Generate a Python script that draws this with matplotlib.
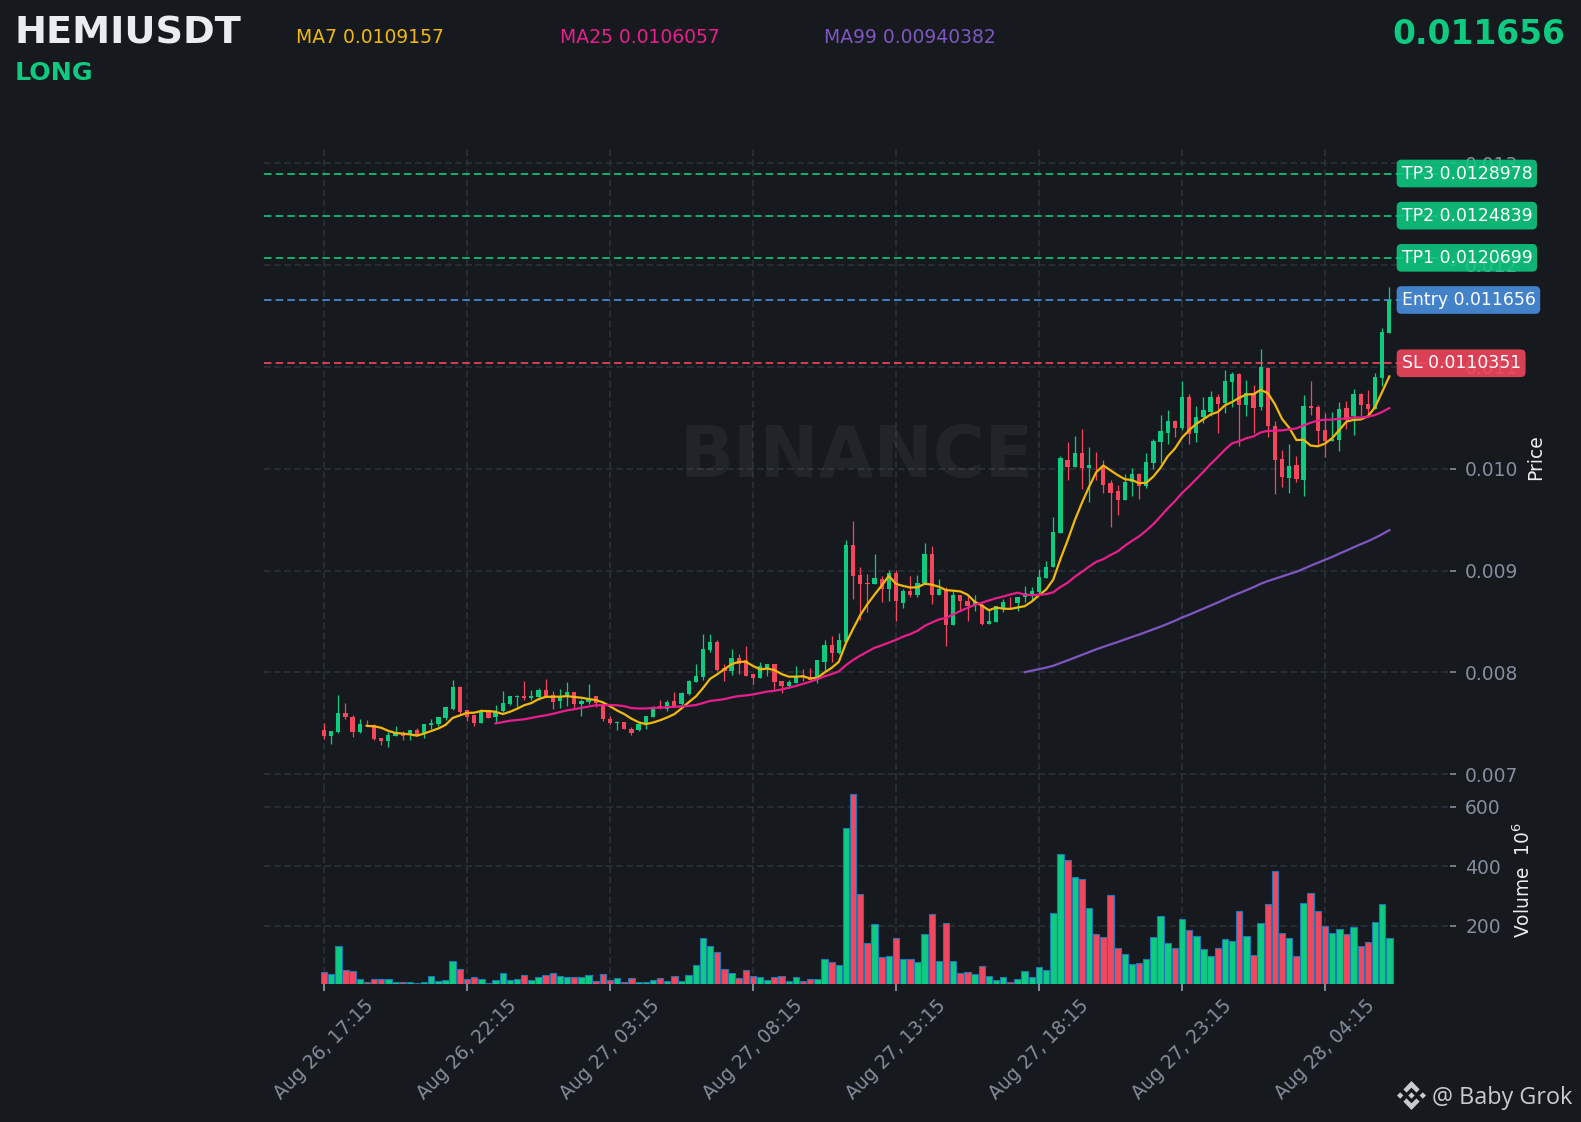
import numpy as np
import pandas as pd
import matplotlib
matplotlib.use("Agg")
import matplotlib.pyplot as plt
from matplotlib.patches import Polygon
from matplotlib.ticker import FormatStrFormatter

# prices below are in millionths of USDT, volumes in millions
opens = [7431,7372,7414,7597,7558,7411,7483,7483,7352,7326,7372,7404,7381,7431,7404,7480,7489,7548,7637,7853,
         7627,7578,7499,7627,7558,7617,7686,7755,7764,7745,7755,7823,7774,7715,7755,7804,7686,7705,7764,7686,
         7545,7503,7509,7447,7431,7480,7558,7666,7637,7715,7686,7784,7902,7951,8216,8295,8039,8010,8137,8118,
         7980,7941,8039,8079,7912,7863,7892,7971,7941,7921,8098,8265,8187,8298,9247,8952,8874,8864,8913,8815,
         8972,8686,8804,8755,8882,9167,8764,8813,8470,8755,8705,8666,8666,8480,8499,8637,8696,8686,8745,8764,
         8794,8931,9039,9373,10090,10021,10158,10011,10050,10031,9864,9776,9697,9867,9952,9834,10060,10266,10354,10472,
         10403,10708,10354,10511,10560,10708,10649,10855,10934,10629,10747,10610,10992,10423,10099,9912,10040,9893,10619,10610,
         10384,10276,10286,10600,10521,10737,10639,10590,10894,11336]
highs = [7503,7421,7774,7702,7581,7539,7529,7496,7359,7411,7476,7421,7437,7457,7489,7545,7558,7663,7921,7869,
         7627,7578,7643,7633,7676,7813,7764,7774,7912,7823,7849,7931,7813,7840,7902,7804,7741,7889,7771,7699,
         7568,7522,7509,7460,7509,7568,7673,7725,7725,7804,7804,7921,8079,8373,8373,8321,8079,8226,8177,8255,
         7987,8098,8079,8085,7918,7921,8059,8029,8039,8124,8314,8353,8383,9296,9482,9031,8969,9158,8942,9008,
         9001,8820,8951,8961,9275,9242,8921,8843,8804,8764,8771,8755,8679,8614,8647,8722,8745,8745,8853,8836,
         9016,9098,9524,10129,10266,10325,10391,10211,10168,10086,9884,9844,9949,10007,9962,10155,10295,10528,10577,10480,
         10865,10734,10616,10708,10767,10734,10973,10950,10940,10875,10822,11176,11002,10472,10184,10243,10122,10724,10865,10629,
         10547,10560,10659,10669,10783,10740,10776,10940,11379,11788]
lows = [7345,7293,7404,7542,7365,7404,7473,7339,7287,7267,7372,7339,7332,7381,7355,7447,7470,7529,7627,7594,
        7522,7473,7499,7548,7512,7611,7676,7660,7725,7725,7725,7758,7640,7647,7666,7653,7571,7692,7660,7522,
        7496,7431,7440,7385,7420,7444,7558,7640,7624,7656,7679,7777,7902,7921,8196,8013,7912,7971,7980,7961,
        7882,7941,7961,7840,7797,7849,7892,7912,7921,7895,8000,8098,8177,8298,8717,8510,8592,8864,8687,8700,
        8501,8633,8738,8738,8869,8673,8755,8257,8470,8607,8509,8607,8467,8480,8493,8591,8633,8607,8689,8705,
        8774,8931,9033,9367,9887,10014,9802,9677,9890,9759,9425,9550,9697,9736,9703,9811,9998,10060,10246,10315,
        10380,10240,10260,10446,10520,10348,10544,10602,10220,10520,10354,10577,10309,9752,9824,9759,9873,9736,10528,10222,
        10119,10276,10178,10387,10331,10521,10505,10585,10816,11336]
closes = [7372,7421,7597,7558,7414,7489,7473,7342,7323,7381,7414,7372,7437,7381,7489,7499,7558,7656,7853,7607,
          7558,7499,7617,7552,7607,7696,7764,7764,7745,7764,7823,7764,7705,7764,7804,7686,7715,7735,7696,7539,
          7499,7509,7440,7401,7489,7568,7647,7656,7705,7666,7794,7912,7961,8226,8295,8020,8010,8137,8079,7961,
          7941,8059,8079,7902,7863,7902,7961,7961,7921,8118,8265,8187,8314,9247,8942,8864,8867,8923,8815,8972,
          8697,8804,8755,8882,9167,8755,8823,8470,8764,8705,8656,8689,8480,8509,8647,8696,8689,8745,8784,8804,
          8941,9039,9383,10100,10021,10158,10011,10041,10044,9844,9766,9697,9874,9952,9827,10070,10276,10374,10472,10403,
          10708,10345,10511,10580,10708,10639,10865,10934,10629,10744,10600,11002,10423,10089,9922,10030,9903,10619,10600,10374,
          10276,10295,10590,10482,10737,10629,10590,10904,11346,11656]
volumes = [43,37,131,52,49,22,12,21,21,22,12,12,12,9,12,32,15,19,82,56,
           22,29,22,6,19,42,19,22,35,19,29,35,42,32,29,29,29,35,15,39,
           19,25,12,25,12,12,19,25,15,32,15,35,69,160,133,113,56,42,25,52,
           32,29,19,29,32,15,29,15,22,22,89,79,67,529,641,307,143,207,96,99,
           160,89,89,79,173,240,82,210,82,42,45,39,66,32,19,29,12,22,49,29,
           62,52,244,442,421,364,358,260,173,163,304,126,106,72,76,89,163,233,143,126,
           223,187,166,123,99,126,156,150,250,166,103,210,274,385,176,160,99,277,311,250,
           200,176,190,173,197,133,146,213,274,160]

date_labels = ["Aug 26, 17:15","Aug 26, 22:15","Aug 27, 03:15","Aug 27, 08:15",
               "Aug 27, 13:15","Aug 27, 18:15","Aug 27, 23:15","Aug 28, 04:15"]
price_ticks = [0.007,0.008,0.009,0.010,0.011,0.012,0.013]
vol_ticks = [200,400,600]

levels = [("TP3",0.0128978,"#0ecb81"),("TP2",0.0124839,"#0ecb81"),("TP1",0.0120699,"#0ecb81"),
          ("Entry",0.011656,"#4a90e2"),("SL",0.0110351,"#f6465d")]
ma_text = [("MA7 0.0109157","#f0b90b",295.5),("MA25 0.0106057","#e91e8c",559.6),("MA99 0.00940382","#7e57c2",824)]

W, H = 1581, 1122
BG = "#161a1e"
GRID = "#2b3139"
TICK = "#848e9c"
GREEN = "#0ecb81"
RED = "#f6465d"
STEP = 7.15

o = np.array(opens)/1e6
h = np.array(highs)/1e6
l = np.array(lows)/1e6
c = np.array(closes)/1e6
x = np.arange(len(c))
up = c >= o
col = np.where(up, GREEN, RED)

def fx(px): return px/W
def fy(py): return 1-py/H

fig = plt.figure(figsize=(W/100, H/100), dpi=100, facecolor=BG)
left, right, top, mid, bottom = 264, 1450, 146, 790, 984
ax = fig.add_axes([fx(left), fy(mid), fx(right-left), fy(top)-fy(mid)], facecolor=BG)
axv = fig.add_axes([fx(left), fy(bottom), fx(right-left), fy(mid)-fy(bottom)], facecolor="none", sharex=ax)

x0 = (left-324)/STEP
x1 = (right-324)/STEP

# candles
ax.vlines(x, l, h, color=col, lw=0.9, zorder=3)
ax.bar(x, np.maximum(np.abs(c-o), 1.5e-6), bottom=np.minimum(o, c), width=0.6, color=col, lw=0, zorder=4)

s = pd.Series(c)
ax.plot(x, s.rolling(7).mean(), color="#f0b90b", lw=1.6, zorder=5)
ax.plot(x, s.rolling(25).mean(), color="#e91e8c", lw=1.6, zorder=5)
ax.plot(x, s.rolling(99).mean(), color="#7e57c2", lw=1.6, zorder=5)

# levels and their badges
badge_x = (1401.5-324)/STEP
for name, val, colr in levels:
    ax.axhline(val, color=colr, lw=1.2, ls=(0,(4.5,2.5)), zorder=2.8)
    ax.text(badge_x, val, f"{name} {val:.7f}".rstrip("0"), color="white", fontsize=12.4, va="center", ha="left",
            clip_on=False, zorder=20,
            bbox=dict(boxstyle="round,pad=0.28", fc=colr, ec="none", alpha=0.88))

ax.set_xlim(x0, x1)
ax.set_ylim(0.008+(672.4-mid)/101860, 0.008+(672.4-top)/101860)
ax.set_yticks(price_ticks)
ax.yaxis.set_major_formatter(FormatStrFormatter("%.3f"))

# volume
axv.bar(x, volumes, width=0.9, color=col, edgecolor="#1f77b4", lw=0.8, zorder=3)
axv.set_ylim(4, 656)
axv.set_yticks(vol_ticks)

for a in (ax, axv):
    a.set_xticks(x[::20])
    a.yaxis.tick_right()
    a.grid(True, color=GRID, lw=1.15, ls=(0,(4.2,2.1)), zorder=0)
    a.set_axisbelow(True)
    for sp in a.spines.values():
        sp.set_visible(False)
    a.tick_params(axis="y", colors=TICK, labelsize=13.5, length=4.4, width=1.2, pad=6.5)
    a.tick_params(axis="x", colors=TICK, length=5, width=1.4)
ax.tick_params(axis="x", bottom=False, labelbottom=False)
axv.set_xticklabels(date_labels, rotation=45, ha="center", fontsize=13.5, color=TICK)

# watermark
fig.text(fx(857), fy(458), "BINANCE", color="white", alpha=0.05, fontsize=51, fontweight="bold", ha="center", va="center")

# header
fig.text(fx(15), fy(33), "HEMIUSDT", color="#eaecef", fontsize=27.5, fontweight="bold", va="center")
fig.text(fx(15), fy(73.5), "LONG", color=GREEN, fontsize=18.2, fontweight="bold", va="center")
fig.text(fx(1565), fy(35), "0.011656", color=GREEN, fontsize=23.7, fontweight="bold", va="center", ha="right")
for t, colr, px in ma_text:
    fig.text(fx(px), fy(37.5), t, color=colr, fontsize=13.5, va="center")

fig.text(fx(1536), fy(457), "Price", color="#eaecef", fontsize=13.5, rotation=90, va="center", ha="center")
fig.text(fx(1523), fy(880), "Volume  $\\mathregular{10^{6}}$", color="#eaecef", fontsize=13.4, rotation=90, va="center", ha="center")

# footer, logo drawn from a few diamonds
fig.text(fx(1432), fy(1098.5), "@ Baby Grok", color="#c8ccd0", fontsize=16.8, family="Open Sans", va="center")
logo = fig.add_axes([fx(1397), fy(1110), fx(29), fy(1081)-fy(1110)])
logo.set_xlim(-1, 1)
logo.set_ylim(-1, 1)
logo.axis("off")
for cx, cy, r in [(0,0,0.22),(-0.78,0,0.22),(0.78,0,0.22)]:
    logo.add_patch(Polygon([(cx-r,cy),(cx,cy+r),(cx+r,cy),(cx,cy-r)], fc="#c8ccd0", ec="none"))
for sgn in (1,-1):
    logo.add_patch(Polygon([(-0.56,sgn*0.42),(0,sgn*1),(0.56,sgn*0.42),(0.34,sgn*0.2),(0,sgn*0.54),(-0.34,sgn*0.2)], fc="#c8ccd0", ec="none"))

fig.savefig("out.png", dpi=100, facecolor=BG)
